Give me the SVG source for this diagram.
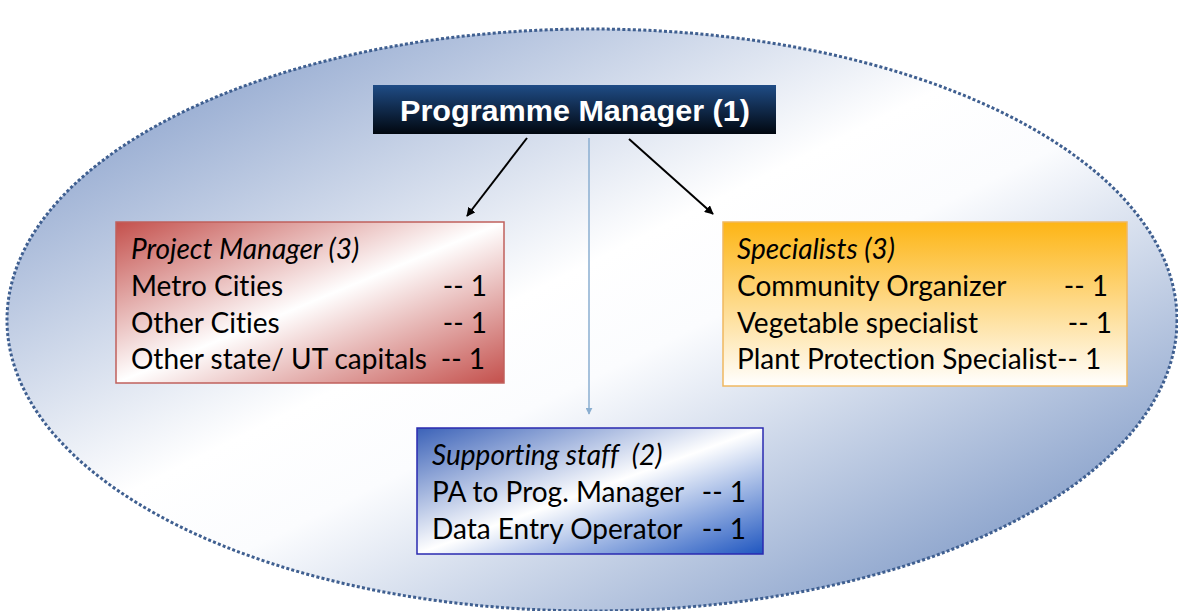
<svg xmlns="http://www.w3.org/2000/svg" width="1178" height="611" viewBox="0 0 1178 611">
<defs>
<linearGradient id="gEll" x1="0" y1="0" x2="1" y2="1">
<stop offset="0" stop-color="#6f8cc0"/>
<stop offset="0.45" stop-color="#ffffff"/>
<stop offset="0.55" stop-color="#fbfcfe"/>
<stop offset="1" stop-color="#5f80b8"/>
</linearGradient>
<linearGradient id="gTop" x1="0" y1="0" x2="0" y2="1">
<stop offset="0" stop-color="#1f4c86"/>
<stop offset="1" stop-color="#01070f"/>
</linearGradient>
<linearGradient id="gRed" x1="0" y1="0" x2="1" y2="1">
<stop offset="0" stop-color="#c4504c"/>
<stop offset="0.5" stop-color="#ffffff"/>
<stop offset="1" stop-color="#c4504c"/>
</linearGradient>
<linearGradient id="gOrg" x1="0" y1="0" x2="0" y2="1">
<stop offset="0" stop-color="#fdb515"/>
<stop offset="1" stop-color="#ffffff"/>
</linearGradient>
<linearGradient id="gBlue" x1="0" y1="0" x2="1" y2="1">
<stop offset="0" stop-color="#3b62b8"/>
<stop offset="0.5" stop-color="#ffffff"/>
<stop offset="1" stop-color="#1f56c0"/>
</linearGradient>
<marker id="ah" viewBox="0 0 10 10" refX="9" refY="5" markerWidth="9" markerHeight="9" orient="auto" markerUnits="userSpaceOnUse">
<path d="M0,0 L10,5 L0,10 z" fill="#000"/>
</marker>
<marker id="ahb" viewBox="0 0 10 10" refX="9" refY="5" markerWidth="7" markerHeight="7" orient="auto" markerUnits="userSpaceOnUse">
<path d="M0,0 L10,5 L0,10 z" fill="#8aaed0"/>
</marker>
</defs>
<style>
.t{font-family:Lato,"Liberation Sans",sans-serif;font-size:28px;fill:#000;font-variant-ligatures:none}
.i{font-style:italic}
.e{text-anchor:end}
</style>
<rect width="1178" height="611" fill="#fff"/>
<g id="ellipse">
<ellipse cx="592" cy="320" rx="585" ry="291" fill="url(#gEll)" stroke="#3f5f90" stroke-width="3" stroke-dasharray="3 2.2"/>
</g>
<g id="connectors">
<line x1="527" y1="138" x2="467" y2="216" stroke="#000" stroke-width="2" marker-end="url(#ah)"/>
<line x1="629" y1="139" x2="713" y2="214" stroke="#000" stroke-width="2" marker-end="url(#ah)"/>
<line x1="589" y1="138" x2="589" y2="414" stroke="#8aaed0" stroke-width="1.5" marker-end="url(#ahb)"/>
</g>
<g id="programme-manager">
<rect x="373" y="85" width="403" height="49" fill="url(#gTop)"/>
<text x="575" y="121" text-anchor="middle" font-family="'Liberation Sans',Arial,sans-serif" font-weight="bold" font-size="29" fill="#fff" textLength="350" lengthAdjust="spacingAndGlyphs">Programme Manager (1)</text>
</g>
<g id="project-manager">
<rect x="116" y="222" width="388" height="161" fill="url(#gRed)" stroke="#c0605c" stroke-width="1.5"/>
<text class="t i" x="131" y="259">Project Manager (3)</text>
<text class="t" x="131" y="296">Metro Cities</text>
<text class="t e" x="487" y="296">-- 1</text>
<text class="t" x="131" y="333">Other Cities</text>
<text class="t e" x="487" y="333">-- 1</text>
<text class="t" x="131" y="369">Other state/ UT capitals</text>
<text class="t e" x="485" y="369">-- 1</text>
</g>
<g id="specialists">
<rect x="723" y="222" width="404" height="164" fill="url(#gOrg)" stroke="#f0b860" stroke-width="1.5"/>
<text class="t i" x="737" y="259">Specialists (3)</text>
<text class="t" x="737" y="296">Community Organizer</text>
<text class="t e" x="1108" y="296">-- 1</text>
<text class="t" x="737" y="333">Vegetable specialist</text>
<text class="t e" x="1112" y="333">-- 1</text>
<text class="t" x="737" y="369">Plant Protection Specialist-- 1</text>
</g>
<g id="supporting-staff">
<rect x="417" y="428" width="346" height="126" fill="url(#gBlue)" stroke="#2a2ab0" stroke-width="1.5"/>
<text class="t i" x="432" y="465" xml:space="preserve">Supporting staff  (2)</text>
<text class="t" x="432" y="502">PA to Prog. Manager</text>
<text class="t e" x="746" y="502">-- 1</text>
<text class="t" x="432" y="539">Data Entry Operator</text>
<text class="t e" x="746" y="539">-- 1</text>
</g>
</svg>
